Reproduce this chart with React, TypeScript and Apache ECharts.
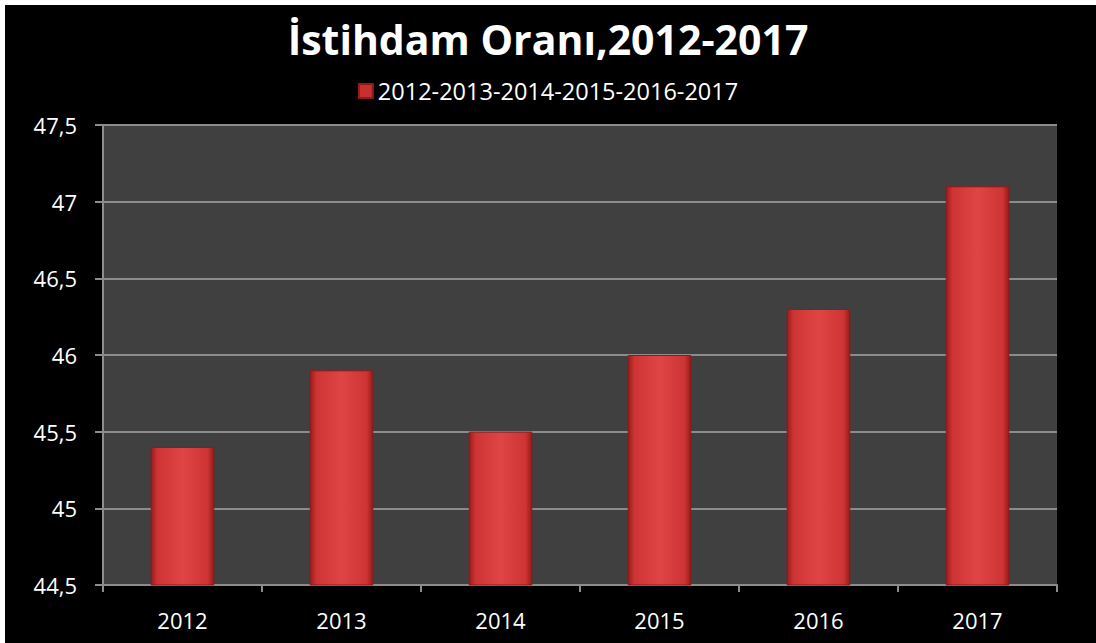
import React, { useEffect, useRef } from "react";
import * as echarts from "echarts";

const categories = ["2012", "2013", "2014", "2015", "2016", "2017"];
const values = [45.4, 45.9, 45.5, 46.0, 46.3, 47.1];
const seriesName = "2012-2013-2014-2015-2016-2017";
const titleText = "İstihdam Oranı,2012-2017";

export default function App() {
  const ref = useRef<HTMLDivElement>(null);
  useEffect(() => {
    if (!ref.current) return;
    const chart = echarts.init(ref.current, undefined, { renderer: "svg" });
    const barColor = new echarts.graphic.LinearGradient(0, 0, 1, 0, [
      { offset: 0, color: "#9a1c1c" },
      { offset: 0.1, color: "#cf3434" },
      { offset: 0.5, color: "#e04545" },
      { offset: 0.9, color: "#cf3434" },
      { offset: 1, color: "#961b1b" },
    ]);
    chart.setOption({
      animation: false,
      backgroundColor: "#000000",
      textStyle: { fontFamily: "Open Sans" },
      graphic: [
        { type: "rect", shape: { x: 0, y: 0, width: 1096, height: 5 }, style: { fill: "#ffffff" }, z: 100 },
        { type: "rect", shape: { x: 0, y: 0, width: 5, height: 643 }, style: { fill: "#ffffff" }, z: 100 },
      ],
      title: {
        text: titleText,
        left: "center",
        top: 13,
        textStyle: { color: "#ffffff", fontSize: 41, fontWeight: "bold", fontFamily: "Open Sans" },
      },
      legend: {
        top: 74,
        left: "center",
        itemWidth: 14,
        itemHeight: 14,
        itemGap: 8,
        icon: "rect",
        textStyle: { color: "#ffffff", fontSize: 23.5, fontFamily: "Open Sans" },
        data: [{ name: seriesName, itemStyle: { color: "#c83030" } }],
      },
      grid: {
        left: 103,
        top: 125,
        right: 39,
        bottom: 58,
        show: true,
        backgroundColor: "#404040",
        borderWidth: 0,
      },
      xAxis: {
        type: "category",
        data: categories,
        axisLine: { lineStyle: { color: "#8c8c8c", width: 2 } },
        axisTick: { show: true, length: 7, lineStyle: { color: "#8c8c8c", width: 2 } },
        axisLabel: { color: "#ffffff", fontSize: 22, margin: 24, fontFamily: "Open Sans" },
      },
      yAxis: {
        type: "value",
        min: 44.5,
        max: 47.5,
        interval: 0.5,
        axisLine: { show: true, lineStyle: { color: "#8c8c8c", width: 2 } },
        axisTick: { show: true, length: 8, lineStyle: { color: "#8c8c8c", width: 2 } },
        splitLine: { lineStyle: { color: "#8c8c8c", width: 2 } },
        axisLabel: {
          color: "#ffffff",
          fontSize: 22,
          margin: 26,
          fontFamily: "Open Sans",
          formatter: (v: number) => String(v).replace(".", ","),
        },
      },
      series: [
        {
          name: seriesName,
          type: "bar",
          data: values,
          barWidth: "40%",
          itemStyle: { color: barColor, borderColor: "#8e1a1a", borderWidth: 1 },
        },
      ],
    });
    return () => chart.dispose();
  }, []);
  return (
    <div
      ref={ref}
      style={{ position: "absolute", left: 0, top: 0, width: 1096, height: 643 }}
    />
  );
}
